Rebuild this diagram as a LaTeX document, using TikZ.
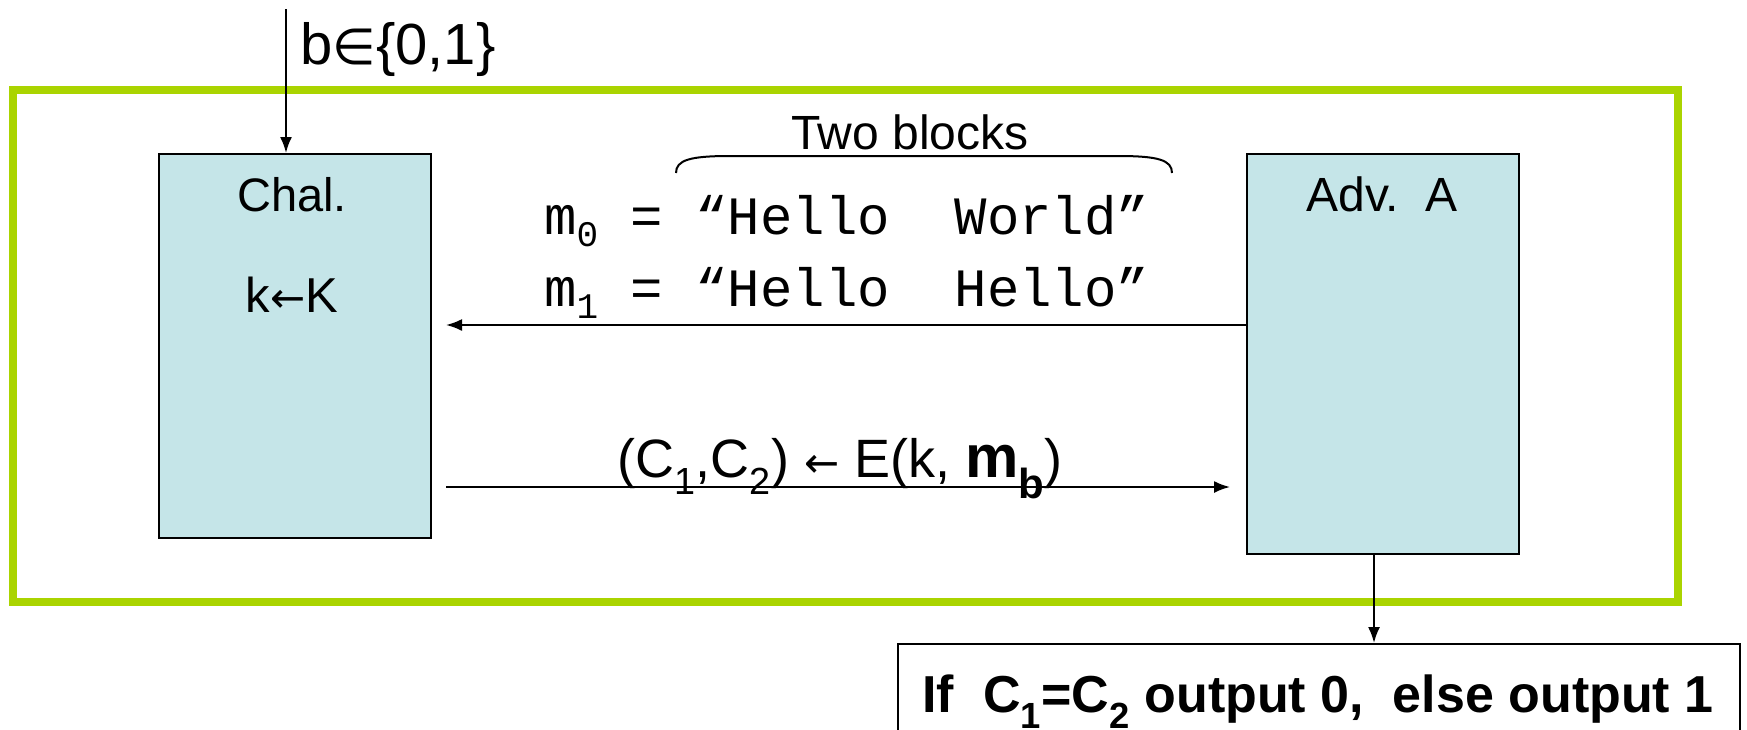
\documentclass[tikz,border=0pt]{standalone}
\usepackage{fontspec}
\setmainfont{Liberation Sans}
\newfontfamily\monof{Liberation Mono}
\newfontfamily\symf{DejaVu Sans}
\usetikzlibrary{arrows.meta}
\definecolor{boxfill}{RGB}{197,229,232}
\definecolor{framegreen}{RGB}{170,212,0}
\tikzset{
  party/.style={draw=black, line width=2pt, fill=boxfill, anchor=north west, inner sep=0pt},
  conn/.style={line width=2pt, -{Latex[length=16pt,width=12pt]}},
  txt/.style={inner sep=0pt, anchor=base},
}
\begin{document}
\begin{tikzpicture}[x=1pt,y=-1pt]
\useasboundingbox (0,0) rectangle (1747,729);
% green frame
\draw[framegreen, line width=8pt] (13,90) rectangle (1678,602);
% party boxes
\node[party, minimum width=272pt, minimum height=384pt] (chal) at (158,153) {};
\node[party, minimum width=272pt, minimum height=400pt] (adv) at (1246,153) {};
\node[txt, font=\fontsize{47}{56}\selectfont] (chalname) at (292,211) {Chal.};
\node[txt, font=\fontsize{49}{56}\selectfont] (chalkey) at (292,312) {k{\symf\fontsize{42}{46}\selectfont←}K};
\node[txt, font=\fontsize{48}{56}\selectfont] (advname) at (1382,211) {Adv.\ \ A};
% input b
\coordinate (bin) at (286,9);
\draw[conn] (bin) -- (chal.north -| bin);
\node[txt, anchor=base west, font=\fontsize{58}{64}\selectfont] (blabel) at (300,64) {b{\symf\fontsize{50}{56}\selectfont∈}\{0,1\}};
% messages
\node[txt, anchor=base west, font=\monof\fontsize{54}{60}\selectfont] (m0) at (544,234) {m\raisebox{-12pt}{\fontsize{36}{40}\selectfont 0} = “Hello\ \ World”};
\node[txt, anchor=base west, font=\monof\fontsize{54}{60}\selectfont] (m1) at (544,306) {m\raisebox{-12pt}{\fontsize{36}{40}\selectfont 1} = “Hello\ \ Hello”};
\coordinate (mstart) at (1246,325);
\coordinate (mend) at (446,325);
\draw[conn] (mstart) -- (mend);
% brace
\coordinate (brL) at (676,173);
\coordinate (brR) at (1172,173);
\draw[line width=2pt] (brL) .. controls (676,160) and (690,156) .. (730,156) -- (1118,156) .. controls (1158,156) and (1172,160) .. (brR);
\node[txt, font=\fontsize{48}{54}\selectfont] (two) at (910,149) {Two blocks};
% ciphertext arrow
\coordinate (cstart) at (446,487);
\coordinate (cend) at (1230,487);
\draw[conn] (cstart) -- (cend);
\node[txt, font=\fontsize{54}{60}\selectfont] (clabel) at (840,477) {(C\textsubscript{1},C\textsubscript{2}) {\symf\fontsize{42}{46}\selectfont←} E(k, \textbf{\fontsize{60}{66}\selectfont m\textsubscript{b}})};
% output
\node[draw=black, line width=2pt, anchor=north west, minimum width=842pt, minimum height=110pt, inner sep=0pt] (out) at (897,643) {};
\draw[conn] (adv.south -| 1374,0) -- (out.north -| 1374,0);
\node[txt, font=\bfseries\fontsize{52}{58}\selectfont] (outtext) at (1318,712) {If\ \ C\textsubscript{1}=C\textsubscript{2} output 0,\ \ else output 1};
\end{tikzpicture}
\end{document}
